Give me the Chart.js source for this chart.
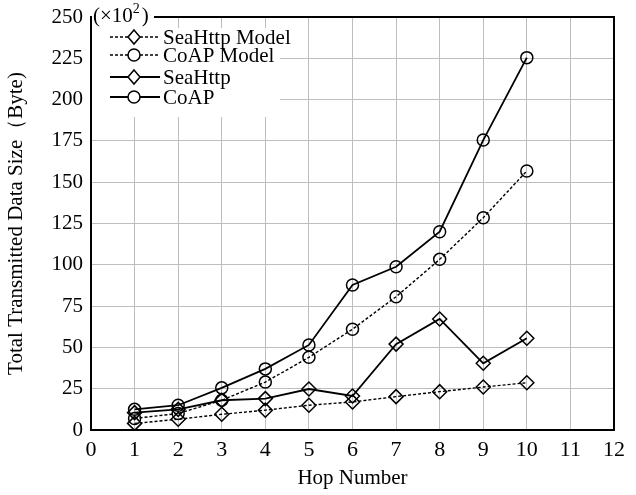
<!DOCTYPE html>
<html>
<head>
<meta charset="utf-8">
<script src="https://cdn.jsdelivr.net/npm/chart.js@4"></script>
<style>
  html, body { margin: 0; padding: 0; background: #fff; }
  #wrap { width: 636px; height: 495px; }
</style>
</head>
<body>
<div id="wrap"><canvas id="myChart" width="636" height="495"></canvas></div>
<script>
'use strict';

const hops = [1, 2, 3, 4, 5, 6, 7, 8, 9, 10];
const seaHttpModel = [4, 6.5, 9.5, 12, 15, 17, 20.2, 23.2, 26, 28.6];
const coapModel = [7, 10, 18, 29, 44, 61, 80.7, 103.3, 128.5, 156.8];
const seaHttp = [10.5, 12.5, 18, 19, 24.8, 20.6, 52, 67.2, 40.4, 55.5];
const coap = [12.5, 15, 25.5, 37, 51.5, 87.8, 98.8, 120, 175.5, 225.4];
const seriesNames = ['SeaHttp Model', 'CoAP Model', 'SeaHttp', 'CoAP'];

const serif = 'Liberation Serif, Times New Roman, serif';

function pts(vals) {
  return vals.map((v, i) => ({ x: hops[i], y: v }));
}

function makeSet(label, vals, shape, dashed) {
  return {
    label: label,
    data: pts(vals),
    borderColor: '#000',
    borderWidth: dashed ? 1.4 : 1.8,
    borderDash: dashed ? [3, 2] : [],
    pointStyle: shape,
    pointRadius: shape === 'rectRot' ? 7 : 6,
    pointBorderWidth: 1.5,
    pointBorderColor: '#000',
    pointBackgroundColor: 'rgba(0,0,0,0)',
    tension: 0
  };
}

// frame, (x10^2) label and legend drawn inside the plot
const framePlugin = {
  id: 'frame',
  afterDatasetsDraw(chart) {
    const c = chart.ctx;
    const a = chart.chartArea;
    c.save();
    c.strokeStyle = '#000';
    c.lineWidth = 2;
    c.beginPath();
    c.moveTo(a.left, a.top);
    c.lineTo(a.right, a.top);
    c.lineTo(a.right, a.bottom);
    c.stroke();

    // exponent label
    c.fillStyle = '#fff';
    c.fillRect(a.left + 1, a.top - 13, 62, 24);
    c.fillStyle = '#000';
    c.font = '21px ' + serif;
    c.textBaseline = 'alphabetic';
    c.fillText('(\u00d710', a.left + 2, a.top + 5);
    const w = c.measureText('(\u00d710').width;
    c.font = '14px ' + serif;
    c.fillText('2', a.left + 2 + w, a.top - 4);
    c.font = '21px ' + serif;
    c.fillText(')', a.left + 2 + w + 9, a.top + 5);

    // legend
    c.fillStyle = '#fff';
    c.fillRect(a.left + 1, a.top + 11, 188, 89);
    const rows = [a.top + 20, a.top + 38, a.top + 60, a.top + 80];
    chart.data.datasets.forEach((ds, i) => {
      const y = rows[i];
      c.strokeStyle = '#000';
      c.lineWidth = ds.borderWidth;
      c.setLineDash(ds.borderDash);
      c.beginPath();
      c.moveTo(110, y);
      c.lineTo(160, y);
      c.stroke();
      c.setLineDash([]);
      c.lineWidth = 1.5;
      c.beginPath();
      if (ds.pointStyle === 'circle') {
        c.arc(134, y, 6, 0, Math.PI * 2);
      } else {
        c.moveTo(134, y - 7);
        c.lineTo(140, y);
        c.lineTo(134, y + 7);
        c.lineTo(128, y);
        c.closePath();
      }
      c.fillStyle = '#fff';
      c.fill();
      c.stroke();
      c.fillStyle = '#000';
      c.font = '21px ' + serif;
      c.textBaseline = 'middle';
      c.fillText(ds.label, 163, y + 1);
    });
    c.restore();
  }
};

const ctx = document.getElementById('myChart').getContext('2d');

new Chart(ctx, {
  type: 'line',
  data: {
    datasets: [
      makeSet(seriesNames[0], seaHttpModel, 'rectRot', true),
      makeSet(seriesNames[1], coapModel, 'circle', true),
      makeSet(seriesNames[2], seaHttp, 'rectRot', false),
      makeSet(seriesNames[3], coap, 'circle', false)
    ]
  },
  options: {
    responsive: false,
    animation: false,
    layout: { padding: { left: 0, top: 17, right: 22, bottom: 0 } },
    plugins: {
      legend: { display: false },
      tooltip: { enabled: false }
    },
    scales: {
      x: {
        type: 'linear',
        min: 0,
        max: 12,
        ticks: { stepSize: 1, color: '#000', font: { family: serif, size: 22 }, padding: 7 },
        grid: { color: '#bdbdbd', lineWidth: 1, drawTicks: false },
        border: { color: '#000', width: 2 },
        title: { display: true, text: 'Hop Number', color: '#000', font: { family: serif, size: 21 }, padding: { top: 2 } },
        afterFit(s) { s.height = 65; s.paddingLeft = 0; s.paddingRight = 0; }
      },
      y: {
        min: 0,
        max: 250,
        ticks: { stepSize: 25, color: '#000', font: { family: serif, size: 21 }, padding: 8 },
        grid: { color: '#bdbdbd', lineWidth: 1, drawTicks: false },
        border: { color: '#000', width: 2 },
        title: { display: true, text: 'Total Transmitted Data Size\uff08Byte)', color: '#000', font: { family: serif, size: 21 }, padding: { bottom: 2 } },
        afterFit(s) { s.width = 91; s.paddingTop = 0; s.paddingBottom = 0; }
      }
    }
  },
  plugins: [framePlugin]
});
</script>
</body>
</html>
